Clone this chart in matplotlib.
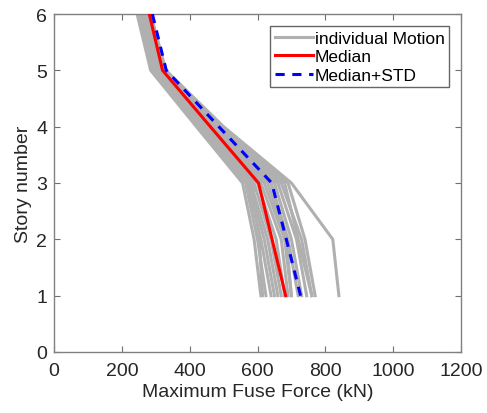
import matplotlib
matplotlib.use("Agg")
import matplotlib.pyplot as plt

plt.rcParams['font.family'] = ['Liberation Sans', 'DejaVu Sans']

stories = [1, 2, 3, 4, 5, 6]

motions = [
    [840, 822, 700, 500, 330, 285],
    [770, 740, 690, 495, 325, 282],
    [760, 720, 680, 490, 320, 280],
    [745, 715, 660, 480, 318, 278],
    [730, 700, 650, 470, 315, 275],
    [720, 690, 640, 465, 310, 272],
    [700, 680, 620, 460, 305, 270],
    [690, 670, 610, 455, 300, 268],
    [680, 655, 600, 450, 300, 265],
    [670, 640, 590, 445, 295, 262],
    [660, 630, 580, 440, 292, 260],
    [650, 620, 575, 435, 290, 258],
    [640, 610, 570, 430, 288, 255],
    [625, 600, 565, 425, 287, 250],
    [610, 590, 556, 420, 285, 245],
    [700, 685, 630, 470, 320, 283],
    [760, 730, 670, 480, 312, 276],
    [615, 605, 585, 445, 298, 266],
]
median = [683, 643, 603, 461, 320, 281]
median_std = [727, 685, 642, 486, 331, 290]

fig = plt.figure(figsize=(4.87, 4.14), dpi=100)
ax = fig.add_axes([54/487, 1-353/414, (461-54)/487, (353-15)/414])

for i, m in enumerate(motions):
    ax.plot(m, stories, color='#b0b0b0', lw=2.2,
            label='individual Motion' if i == 0 else None, zorder=1)
ax.plot(median, stories, color='#ff0000', lw=2.2, label='Median', zorder=3)
ax.plot(median_std, stories, color='#0000ff', lw=2.2, ls=(0, (3, 2.5)),
        label='Median+STD', zorder=4)

ax.set_xlim(0, 1200)
ax.set_ylim(0, 6)
ax.set_xticks([0, 200, 400, 600, 800, 1000, 1200])
ax.set_yticks([0, 1, 2, 3, 4, 5, 6])
ax.tick_params(direction='in', top=True, right=True, labelsize=14,
               color='#707070', length=4, labelcolor='#262626')
ax.tick_params(axis='x', pad=7)
ax.tick_params(axis='y', pad=5)
for s in ax.spines.values():
    s.set_color('#808080')
    s.set_linewidth(1.0)
ax.set_xlabel('Maximum Fuse Force (kN)', fontsize=14, color='#262626', labelpad=3)
ax.set_ylabel('Story number', fontsize=14, color='#262626', labelpad=3)

leg = ax.legend(loc='upper right', fontsize=12.5, frameon=True, fancybox=False,
                edgecolor='#404040', handlelength=2.2, handletextpad=0.1,
                borderpad=0.25, labelspacing=0.2, borderaxespad=0.7)
leg.get_frame().set_linewidth(1.0)

fig.savefig('out.png', dpi=100)
